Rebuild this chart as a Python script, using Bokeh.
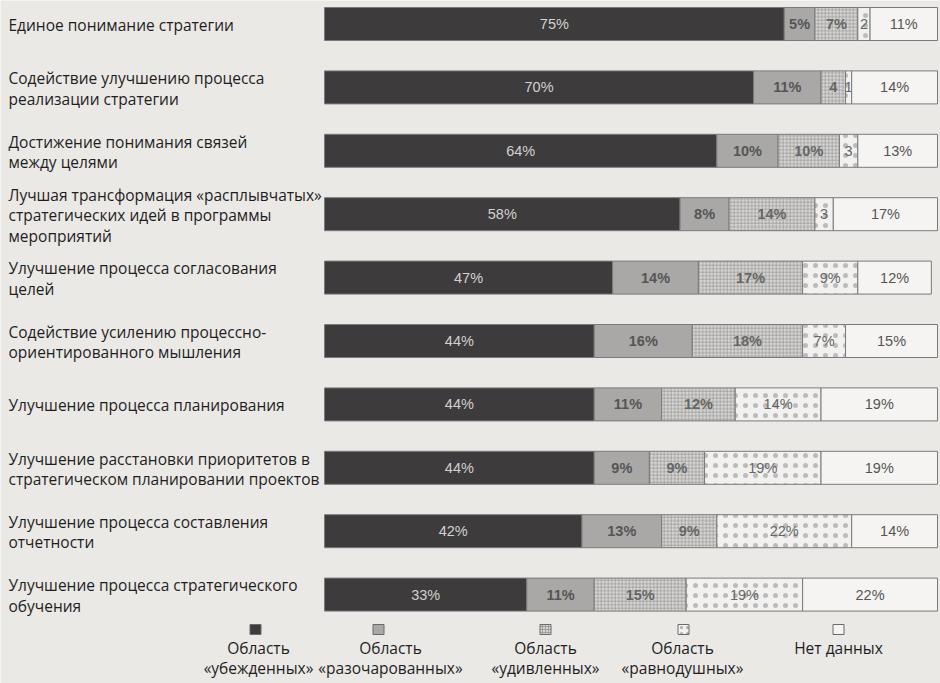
import numpy as np
from bokeh.plotting import figure
from bokeh.models import ColumnDataSource, Range1d
from bokeh.core.properties import value
from bokeh.embed import file_html
from bokeh.resources import INLINE

# ---------------- data ----------------
categories = [
    "Единое понимание стратегии",
    "Содействие улучшению процесса\nреализации стратегии",
    "Достижение понимания связей\nмежду целями",
    "Лучшая трансформация «расплывчатых»\nстратегических идей в программы\nмероприятий",
    "Улучшение процесса согласования\nцелей",
    "Содействие усилению процессно-\nориентированного мышления",
    "Улучшение процесса планирования",
    "Улучшение расстановки приоритетов в\nстратегическом планировании проектов",
    "Улучшение процесса составления\nотчетности",
    "Улучшение процесса стратегического\nобучения",
]
series_names = [
    "Область\n«убежденных»",
    "Область\n«разочарованных»",
    "Область\n«удивленных»",
    "Область\n«равнодушных»",
    "Нет данных",
]
convinced = [75, 70, 64, 58, 47, 44, 44, 44, 42, 33]
disappointed = [5, 11, 10, 8, 14, 16, 11, 9, 13, 11]
surprised = [7, 4, 10, 14, 17, 18, 12, 9, 9, 15]
indifferent = [2, 1, 3, 3, 9, 7, 14, 19, 22, 19]
no_data = [11, 14, 13, 17, 12, 15, 19, 19, 14, 22]

# ---------------- styles ----------------
BG = "#ebe9e6"
fills = ["#3d3b3b", "#a9a8a7", "#d6d5d3", "#f2f1ef", "#f5f4f2"]
hatches = [None, None, "cross", "dot", None]
hatch_scales = [12, 12, 3.5, 10, 12]
hatch_cols = [None, None, "#858585", "#aaaaaa", None]
hatch_alphas = [1, 1, 0.9, 0.75, 1]
text_colors = ["#d2d2d2", "#555555", "#666666", "#666666", "#555555"]
text_styles = ["normal", "bold", "bold", "normal", "normal"]

W, H = 940, 683
BAR_L, BAR_R = 324, 937          # px of 0% and 100%
ROW0, ROW_STEP = 23.5, 63.4      # px of first bar center, spacing
PXU = (BAR_R - BAR_L) / 100.0

x_start = -BAR_L / PXU
x_end = (W - BAR_L) / PXU
y_top = -ROW0 / ROW_STEP
y_bot = (H - ROW0) / ROW_STEP


def px2x(cx):
    return (cx - BAR_L) / PXU


def px2y(cy):
    return (cy - ROW0) / ROW_STEP


p = figure(width=W, height=H, x_range=Range1d(x_start, x_end),
           y_range=Range1d(y_bot, y_top), output_backend="svg",
           toolbar_location=None, min_border=0, x_axis_type=None,
           y_axis_type=None, background_fill_color=BG,
           border_fill_color=BG, outline_line_color=None)

rows = np.arange(len(categories))
series = [convinced, disappointed, surprised, indifferent, no_data]
left = np.zeros(len(categories))
bar_h = 33 / ROW_STEP

for k, vals in enumerate(series):
    vals = np.array(vals, dtype=float)
    right = left + vals
    labels = [f"{int(v)}%" if v >= 5 else f"{int(v)}" for v in vals]
    src = ColumnDataSource(dict(y=rows, left=left.copy(), right=right,
                                mid=(left + right) / 2, lab=labels))
    kw = {}
    if hatches[k]:
        kw = dict(hatch_pattern=hatches[k], hatch_color=hatch_cols[k],
                  hatch_weight=0.6, hatch_scale=hatch_scales[k],
                  hatch_alpha=hatch_alphas[k])
    p.hbar(y="y", left="left", right="right", height=bar_h, source=src,
           fill_color=fills[k], line_color="#7a7a7a", line_width=1, **kw)
    p.text(x="mid", y="y", text="lab", source=src, text_align="center",
           text_baseline="middle", text_color=text_colors[k],
           text_font=value("Liberation Sans"), text_font_size="14.5px",
           text_font_style=text_styles[k])
    left = right

# category labels
p.text(x=[px2x(8)] * len(categories), y=rows + 1 / ROW_STEP, text=categories,
       text_align="left", text_baseline="middle", text_color="#1e1e1e",
       text_font=value("Open Sans"), text_font_size="15.5px",
       text_line_height=0.93)

# legend
sq_cx = [255, 378, 545, 683, 838]
txt_cx = [258, 390, 545, 682, 838]
leg_y = px2y(629)
for k in range(5):
    kw = {}
    if hatches[k]:
        kw = dict(hatch_pattern=hatches[k], hatch_color=hatch_cols[k],
                  hatch_weight=0.6, hatch_scale=3 if hatches[k] == "cross" else 6)
    p.rect(x=[px2x(sq_cx[k])], y=[leg_y], width=11 / PXU,
           height=10 / ROW_STEP, fill_color=fills[k], line_color="#6a6a6a",
           **kw)
p.text(x=[px2x(c) for c in txt_cx], y=[px2y(636)] * 5, text=series_names,
       text_align="center", text_baseline="top", text_color="#1e1e1e",
       text_font=value("Open Sans"), text_font_size="15.5px",
       text_line_height=0.93)

html = file_html(p, INLINE)
html = html.replace("<body>", f'<body style="background-color:{BG};">', 1)
open("out.html", "w").write(html)
